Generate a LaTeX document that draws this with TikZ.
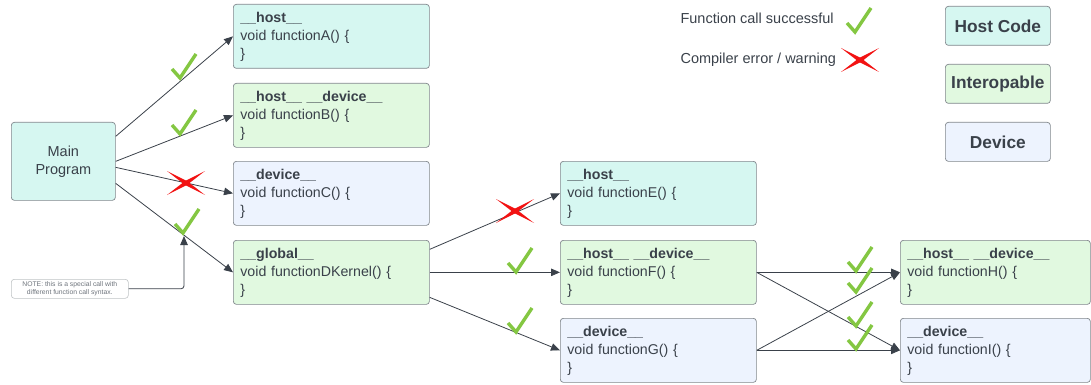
\documentclass[tikz,border=0pt]{standalone}
\usepackage{fontspec}
\setmainfont{Liberation Sans}
\usetikzlibrary{arrows.meta, calc}
\definecolor{hostfill}{RGB}{214, 247, 241}
\definecolor{interfill}{RGB}{225, 249, 224}
\definecolor{devfill}{RGB}{237, 243, 254}
\definecolor{edge}{RGB}{128, 134, 140}
\definecolor{ink}{RGB}{58, 65, 74}
\definecolor{notegray}{RGB}{110, 116, 124}
\definecolor{okgreen}{RGB}{132, 199, 66}
\definecolor{badred}{RGB}{242, 18, 18}

% tick and cross glyphs, placed by their centre / bottom point
\newcommand{\okmark}[1]{\draw[okgreen, line width=3.4pt, shift={(#1)}] (-8,-9) -- (0,0) -- (16,-24);}
\newcommand{\failmark}[1]{
  \fill[badred, shift={(#1)}] (-19,-12) -- (1.2,-1.8) -- (19,12) -- (-1.2,1.8) -- cycle;
  \fill[badred, shift={(#1)}] (19,-12) -- (1.2,1.8) -- (-19,12) -- (-1.2,-1.8) -- cycle;
}

\tikzset{
  fnbox/.style={draw=edge, line width=0.7pt, rounded corners=3pt, anchor=north west,
    minimum width=196pt, minimum height=64pt, text width=182pt, inner xsep=7pt,
    align=left, text=ink, font=\fontsize{14.2}{18}\selectfont},
  hostbox/.style={fnbox, fill=hostfill},
  interbox/.style={fnbox, fill=interfill},
  devbox/.style={fnbox, fill=devfill},
  keybox/.style={draw=edge, line width=0.7pt, rounded corners=3pt, anchor=north west,
    minimum width=105pt, minimum height=39pt, text=ink, font=\fontsize{17.3}{20}\selectfont\bfseries},
  arr/.style={draw=ink, line width=0.8pt, -{Triangle[length=9pt, width=7.5pt]}},
}

\begin{document}
\begin{tikzpicture}[x=1pt, y=-1pt]
  \useasboundingbox (0,0) rectangle (1091,385);

  % caller
  \node[draw=edge, line width=0.7pt, rounded corners=3pt, fill=hostfill, anchor=north west,
    minimum width=104pt, minimum height=78pt, align=center, text=ink,
    font=\fontsize{14.5}{18}\selectfont] (main) at (11,122) {Main\\Program};

  % first column
  \node[hostbox] (fnA) at (233,4) {\textbf{\_\_host\_\_}\\void functionA() \{\\\}};
  \node[interbox] (fnB) at (233,83) {\textbf{\_\_host\_\_ \_\_device\_\_}\\void functionB() \{\\\}};
  \node[devbox] (fnC) at (233,161) {\textbf{\_\_device\_\_}\\void functionC() \{\\\}};
  \node[interbox] (fnD) at (233,240) {\textbf{\_\_global\_\_}\\void functionDKernel() \{\\\}};

  % second column
  \node[hostbox] (fnE) at (560,161) {\textbf{\_\_host\_\_}\\void functionE() \{\\\}};
  \node[interbox] (fnF) at (560,240) {\textbf{\_\_host\_\_ \_\_device\_\_}\\void functionF() \{\\\}};
  \node[devbox] (fnG) at (560,318) {\textbf{\_\_device\_\_}\\void functionG() \{\\\}};

  % third column
  \node[interbox, minimum width=190pt, text width=176pt] (fnH) at (900,240) {\textbf{\_\_host\_\_ \_\_device\_\_}\\void functionH() \{\\\}};
  \node[devbox, minimum width=190pt, text width=176pt] (fnI) at (900,318) {\textbf{\_\_device\_\_}\\void functionI() \{\\\}};

  % legend
  \node[anchor=west, text=ink, font=\fontsize{14.5}{16}\selectfont] (okkey) at (677,18) {Function call successful};
  \node[anchor=west, text=ink, font=\fontsize{14.5}{16}\selectfont] (failkey) at (677,60) {Compiler error / warning};
  \node[keybox, fill=hostfill] (hostkey) at (945,6) {Host Code};
  \node[keybox, fill=interfill] (interkey) at (945,64) {Interopable};
  \node[keybox, fill=devfill] (devkey) at (945,122) {Device};

  \node[draw=edge!50, line width=0.6pt, rounded corners=3pt, anchor=north west,
    minimum width=117pt, minimum height=19pt, inner sep=1pt, align=center, text=notegray,
    font=\fontsize{6.8}{8.5}\selectfont] (note) at (11,279) {NOTE: this is a special call with\\different function call syntax.};
  \coordinate (hint) at (184,236);

  % calls
  \draw[arr] ([yshift=25pt]main.east) -- (fnA.west);
  \draw[arr] (main.east) -- (fnB.west);
  \draw[arr] ([yshift=-6pt]main.east) -- (fnC.west);
  \draw[arr] ([yshift=-22pt]main.east) -- (fnD.west);
  \draw[arr] ([yshift=23pt]fnD.east) -- (fnE.west);
  \draw[arr] (fnD.east) -- (fnF.west);
  \draw[arr] ([yshift=-25pt]fnD.east) -- (fnG.west);
  \draw[arr] (fnF.east) -- (fnH.west);
  \draw[arr] (fnF.east) -- (fnI.west);
  \draw[arr] (fnG.east) -- (fnH.west);
  \draw[arr] (fnG.east) -- (fnI.west);
  \draw[arr, rounded corners=3pt] (note.east) -| (hint);

  % results
  \okmark{855,32}
  \failmark{860,60}
  \okmark{180,78}
  \okmark{180,134}
  \failmark{186,183}
  \okmark{183,233}
  \failmark{515,211}
  \okmark{516,272}
  \okmark{516,332}
  \okmark{856,271}
  \okmark{856,292}
  \okmark{856,326}
  \okmark{856,349}
\end{tikzpicture}
\end{document}
